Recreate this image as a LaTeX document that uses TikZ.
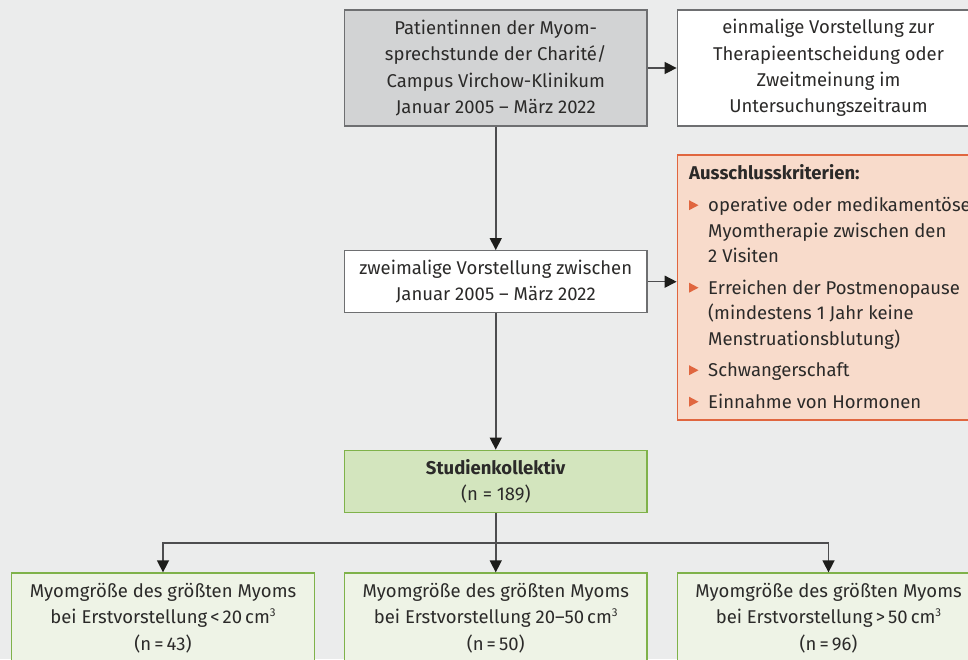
\documentclass[tikz,border=0pt]{standalone}
\usepackage{fontspec}
\setmainfont{Fira Sans}
\usetikzlibrary{arrows.meta}
\definecolor{bg}{HTML}{EBECEC}
\definecolor{txt}{HTML}{2B2A29}
\definecolor{boxgray}{HTML}{6E6F71}
\definecolor{grayfill}{HTML}{D2D3D4}
\definecolor{exclfill}{HTML}{F8DBCB}
\definecolor{exclline}{HTML}{E0663F}
\definecolor{greenfill}{HTML}{D3E5BE}
\definecolor{greenlight}{HTML}{EEF3E6}
\definecolor{greenline}{HTML}{7FB24A}
\definecolor{linegray}{HTML}{4D4D4F}
\definecolor{tipblack}{HTML}{1D1D1B}
\newcommand{\cubthree}{\raisebox{0.42em}{\fontsize{11.5}{11.5}\selectfont 3}}
\begin{document}
\begin{tikzpicture}[x=1pt,y=-1pt,
  box/.style={draw=boxgray, line width=1.3pt, align=center, inner sep=0pt,
    minimum width=302.5pt, text=txt, font=\fontsize{18.5}{26.3}\selectfont},
  listtext/.style={anchor=base west, inner sep=0pt, text=txt, font=\fontsize{18.5}{26.3}\selectfont},
  conn/.style={draw=linegray, line width=1.5pt},
  arr/.style={conn, -{Triangle[length=12pt,width=12pt,color=tipblack]}},
  bul/.style={fill=exclline}
]
\useasboundingbox (0,0) rectangle (968,659);
\clip (0,0) rectangle (968,659);
\fill[bg] (0,0) rectangle (968,659);

% top row
\node[box, fill=grayfill, minimum height=116pt] (pat) at (495.75,68)
  {Patientinnen der Myom-\\sprechstunde der Charité/\\Campus Virchow-Klinikum\\Januar 2005 – März 2022};
\node[box, fill=white, minimum height=116pt] (einm) at (828.5,68)
  {einmalige Vorstellung zur\\Therapieentscheidung oder\\Zweitmeinung im\\Untersuchungszeitraum};

% second row
\node[box, fill=white, minimum height=62pt] (zw) at (495.75,281.7)
  {zweimalige Vorstellung zwischen\\Januar 2005 – März 2022};
\node[box, draw=exclline, fill=exclfill, minimum height=265pt] (excl) at (828.5,287.5) {};

\node[listtext, font=\fontsize{18.5}{26.3}\selectfont\bfseries] (exh) at (689,179.3) {Ausschlusskriterien:};
\node[listtext] (ex1a) at (708,211.7) {operative oder medikamentöse};
\node[listtext] (ex1b) at (708,237.2) {Myomtherapie zwischen den};
\node[listtext] (ex1c) at (708,262.7) {2 Visiten};
\node[listtext] (ex2a) at (708,294.2) {Erreichen der Postmenopause};
\node[listtext] (ex2b) at (708,319.7) {(mindestens 1 Jahr keine};
\node[listtext] (ex2c) at (708,345.2) {Menstruationsblutung)};
\node[listtext] (ex3) at (708,376.7) {Schwangerschaft};
\node[listtext] (ex4) at (708,408.2) {Einnahme von Hormonen};
\foreach \b in {211.7,294.2,376.7,408.2}{
  \fill[bul] (689,\b-11.5) -- (698.5,\b-6.5) -- (689,\b-1.5) -- cycle;
}

% study group
\node[box, draw=greenline, fill=greenfill, minimum height=62.5pt] (stud) at (495.75,481.5)
  {\textbf{Studienkollektiv}\\(n = 189)};

% bottom row
\node[box, draw=greenline, fill=greenlight, minimum height=90pt] (small) at (163,618)
  {Myomgröße des größten Myoms\\bei Erstvorstellung\,<\,20\,cm\cubthree\\(n\,=\,43)};
\node[box, draw=greenline, fill=greenlight, minimum height=90pt] (mid) at (495.75,618)
  {Myomgröße des größten Myoms\\bei Erstvorstellung 20–50\,cm\cubthree\\(n\,=\,50)};
\node[box, draw=greenline, fill=greenlight, minimum height=90pt] (large) at (828.5,618)
  {Myomgröße des größten Myoms\\bei Erstvorstellung\,>\,50\,cm\cubthree\\(n\,=\,96)};

% connectors
\coordinate (split) at (495.75,543);
\draw[arr] (pat.east) -- (einm.west);
\draw[arr] (pat.south) -- (zw.north);
\draw[arr] (zw.east) -- (zw.east -| excl.west);
\draw[arr] (zw.south) -- (stud.north);
\draw[arr] (stud.south) -- (mid.north);
\draw[arr] (split) -| (small.north);
\draw[arr] (split) -| (large.north);
\end{tikzpicture}
\end{document}
